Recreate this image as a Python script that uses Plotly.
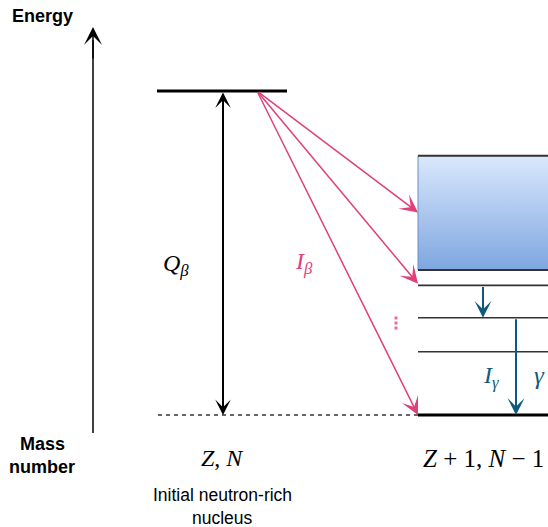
import plotly.graph_objects as go

# Energy scale (arbitrary units): ground state of the daughter = 0, parent level = Q
Q_BETA = 10.0
daughter_levels = [0.0, 1.95, 3.0, 4.0]          # discrete levels of (Z+1, N-1)
continuum_band = [4.475, 8.0]                     # quasi-continuum region
beta_targets = [6.25, 4.05, 0.0]                  # energies fed by beta decay
gamma_transitions = [(4.0, 3.0), (3.0, 0.0)]      # (from, to)
gamma_x = [483, 516]

# layout in pixel-like units horizontally, energy units vertically
PX = 32.4                       # pixels per energy unit
Y0 = 415                        # pixel row of E = 0
H = 527
def E(px):                      # pixel row -> energy
    return (Y0 - px) / PX

PINK = "#e0407a"
TEAL = "#0f5a7c"
SERIF = "Liberation Serif"
SANS = "Liberation Sans"

fig = go.Figure()

# quasi-continuum box with vertical gradient
x0b, x1b = 418, 548
fig.add_trace(go.Scatter(
    x=[x0b, x1b, x1b, x0b, x0b],
    y=[continuum_band[0], continuum_band[0], continuum_band[1], continuum_band[1], continuum_band[0]],
    mode="lines", line=dict(width=0), fill="toself",
    fillgradient=dict(type="vertical", start=continuum_band[0], stop=continuum_band[1],
                      colorscale=[[0, "#7ea6e0"], [1, "#dae8fc"]]),
    hoverinfo="skip", showlegend=False))

# vertical ellipsis marking further unresolved feeding
fig.add_trace(go.Scatter(
    x=[396, 396, 396], y=[E(318), E(323), E(328)], mode="markers",
    marker=dict(symbol="square", size=3, color="#e86a9a"),
    hoverinfo="skip", showlegend=False))

shapes = []
# left edge of the box
shapes.append(dict(type="line", x0=x0b, x1=x0b, y0=continuum_band[0], y1=continuum_band[1],
                   line=dict(color="#6c8ebf", width=1)))
# box top / bottom edges
for e in continuum_band:
    shapes.append(dict(type="line", x0=x0b, x1=x1b, y0=e, y1=e, line=dict(color="#333333", width=2)))
# discrete daughter levels
for e in daughter_levels:
    w = 3 if e == 0 else 1.6
    c = "#000000" if e == 0 else "#333333"
    shapes.append(dict(type="line", x0=x0b, x1=x1b, y0=e, y1=e, line=dict(color=c, width=w)))
# parent level
shapes.append(dict(type="line", x0=157, x1=287, y0=Q_BETA, y1=Q_BETA, line=dict(color="#000000", width=3)))
# dashed reference line at E = 0
shapes.append(dict(type="line", x0=158, x1=x0b, y0=0, y1=0, line=dict(color="#333333", width=1.5, dash="4px,4px")))
# energy axis line
shapes.append(dict(type="line", x0=93, x1=93, y0=E(433), y1=E(40), line=dict(color="#000000", width=1.5)))

anns = []
def arrow(x, y, ax, ay, color, width, size, head=3, both=False):
    d = dict(x=x, y=y, ax=ax, ay=ay, xref="x", yref="y", axref="x", ayref="y",
             text="", showarrow=True, arrowhead=head, arrowsize=size, arrowwidth=width,
             arrowcolor=color, standoff=0, startstandoff=0)
    if both:
        d.update(arrowside="end+start", startarrowhead=head, startarrowsize=size)
    anns.append(d)

# energy axis head
arrow(93, E(27), 93, E(60), "#000000", 1.5, 2.0)
# Q-value double arrow
arrow(223, 0, 223, Q_BETA, "#000000", 2, 1.3, both=True)
# beta feeding arrows
for e in beta_targets:
    arrow(x0b, e, 257, Q_BETA, PINK, 1.5, 2.0)
# gamma transitions
for gx, (ef, et) in zip(gamma_x, gamma_transitions):
    arrow(gx, et, gx, ef, TEAL, 2, 1.4)

def label(x, ypx, text, size, color="#000000", family=SANS):
    anns.append(dict(x=x, y=E(ypx), xref="x", yref="y", text=text, showarrow=False,
                     font=dict(family=family, size=size, color=color),
                     xanchor="center", yanchor="middle"))

label(42, 16, "<b>Energy</b>", 18)
label(42, 444, "<b>Mass</b>", 18)
label(42, 467, "<b>number</b>", 18)
label(176, 265, "<i>Q</i><sub><i>β</i></sub>", 24, family=SERIF)
label(304, 263, "<i>I</i><sub><i>β</i></sub>", 24, color=PINK, family=SERIF)
label(491, 377, "<i>I</i><sub><i>γ</i></sub>", 24, color=TEAL, family=SERIF)
label(539, 375, "<i>γ</i>", 25, color=TEAL, family=SERIF)
label(222, 458, "<i>Z</i>, <i>N</i>", 24, family=SERIF)
label(483, 458, "<i>Z</i> + 1, <i>N</i> − 1", 25, family=SERIF)
label(222, 495, "Initial neutron-rich", 17.5)
label(222, 518, "nucleus", 17.5)

fig.update_layout(
    width=548, height=527, margin=dict(l=0, r=0, t=0, b=0),
    paper_bgcolor="white", plot_bgcolor="white",
    xaxis=dict(range=[0, 548], visible=False, fixedrange=True),
    yaxis=dict(range=[E(H), E(0)], visible=False, fixedrange=True),
    shapes=shapes, annotations=anns, showlegend=False)

fig.write_html("out.html")
